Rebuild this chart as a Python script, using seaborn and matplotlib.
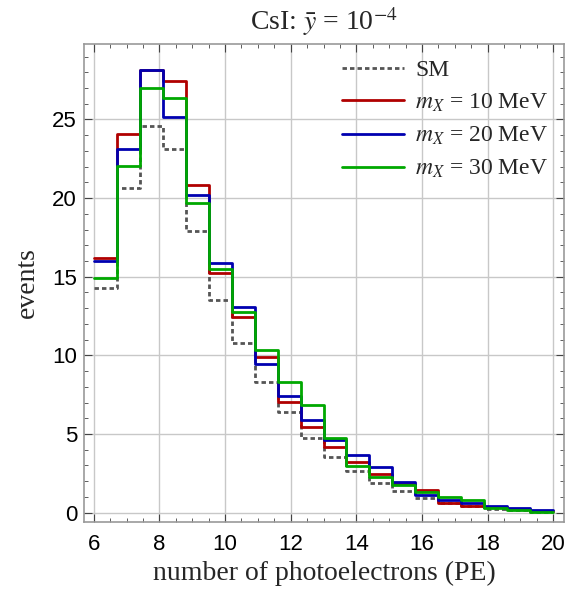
import numpy as np
import matplotlib
matplotlib.use("Agg")
import matplotlib.pyplot as plt
import seaborn as sns

# bin edges of the PE histogram (20 bins of 0.7 PE)
edges = [6.0, 6.7, 7.4, 8.1, 8.8, 9.5, 10.2, 10.9, 11.6, 12.3, 13.0,
         13.7, 14.4, 15.1, 15.8, 16.5, 17.2, 17.9, 18.6, 19.3, 20.0]

sm = [14.26, 20.64, 24.58, 23.14, 17.9, 13.55, 10.77, 8.31, 6.37, 4.76,
      3.55, 2.62, 1.9, 1.35, 0.93, 0.6, 0.4, 0.25, 0.15, 0.05]
m10 = [16.22, 24.09, 28.15, 27.43, 20.86, 15.25, 12.42, 9.88, 7.02, 5.44,
       4.17, 3.22, 2.47, 1.8, 1.46, 0.63, 0.44, 0.35, 0.2, 0.1]
m20 = [16.0, 23.1, 28.15, 25.17, 20.2, 15.9, 13.09, 9.43, 7.44, 5.86,
       4.59, 3.66, 2.9, 1.95, 1.1, 0.82, 0.59, 0.44, 0.3, 0.19]
m30 = [14.93, 22.04, 27.0, 26.37, 19.7, 15.46, 12.77, 10.34, 8.33, 6.85,
       4.76, 2.98, 2.26, 1.73, 1.29, 0.99, 0.78, 0.32, 0.17, 0.06]

centers = [(a + b) / 2 for a, b in zip(edges[:-1], edges[1:])]

sns.set_style("ticks")
plt.rcParams["font.family"] = ["Liberation Serif", "DejaVu Serif"]
plt.rcParams["mathtext.fontset"] = "stix"

fig = plt.figure(figsize=(5.84, 5.92), dpi=100)
ax = fig.add_axes([84 / 584, 1 - 522 / 592, 480 / 584, 478 / 592])

series = [
    (sm, "SM", "#555555", (0, (1.6, 1.1))),
    (m10, r"$m_X$ = 10 MeV", "#b00000", "-"),
    (m20, r"$m_X$ = 20 MeV", "#0000b0", "-"),
    (m30, r"$m_X$ = 30 MeV", "#00a800", "-"),
]
for vals, lab, col, ls in series:
    sns.histplot(x=centers, weights=vals, bins=edges, element="step",
                 fill=False, color=col, linestyle=ls, linewidth=2.0,
                 label=lab, ax=ax)

ax.set_xlim(5.7, 20.33)
ax.set_ylim(-0.6, 29.8)
ax.set_xticks(np.arange(6, 21, 2))
ax.set_xticks(np.arange(6, 20.01, 0.5), minor=True)
ax.set_yticks(np.arange(0, 26, 5))
ax.set_yticks(np.arange(0, 30, 1), minor=True)
ax.grid(True, which="major", color="#c8c8c8", linewidth=1.0)
ax.set_axisbelow(True)

ax.tick_params(which="both", direction="in", top=True, right=True,
               colors="#444444", labelcolor="black")
ax.tick_params(which="major", length=6, width=0.8, labelsize=16)
ax.tick_params(which="minor", length=3, width=0.6)
ax.tick_params(axis="x", which="major", pad=9)
ax.tick_params(axis="y", which="major", pad=5)
for lbl in ax.get_xticklabels() + ax.get_yticklabels():
    lbl.set_family("Liberation Sans")
for s in ax.spines.values():
    s.set_color("#999999")
    s.set_linewidth(1.2)

ax.set_xlabel("number of photoelectrons (PE)", fontsize=20, labelpad=4)
ax.set_ylabel("events", fontsize=20, labelpad=9)
ax.set_title(r"CsI: $\bar{y}$ = 10$^{-4}$", fontsize=20, pad=10)

ax.legend(loc="upper right", frameon=False, fontsize=17, handlelength=2.6,
          handletextpad=0.5, labelspacing=0.46, borderaxespad=0.2,
          borderpad=0.45)

fig.savefig("out.png", dpi=100)
